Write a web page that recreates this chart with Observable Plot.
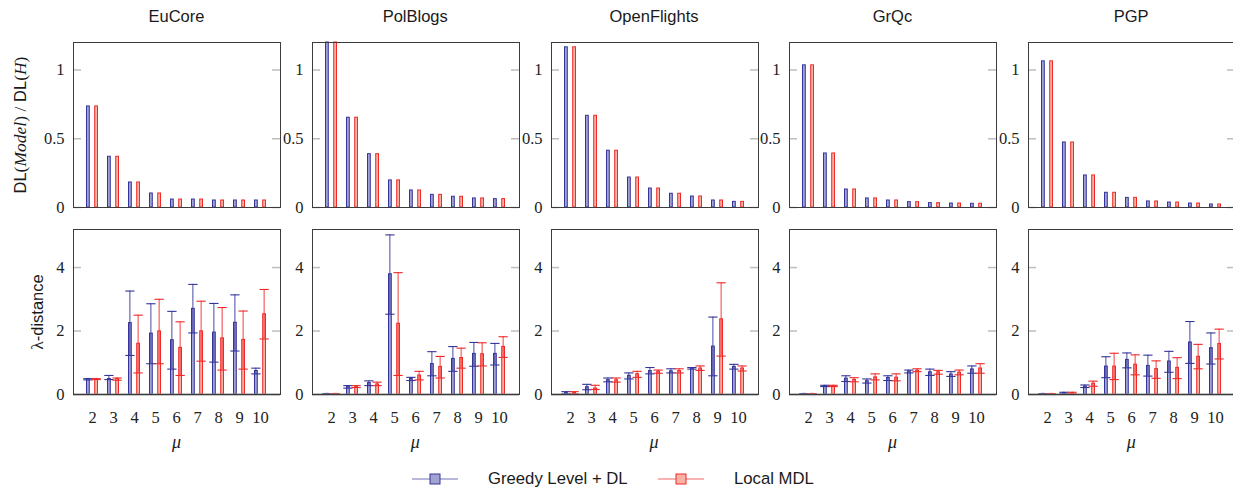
<!DOCTYPE html>
<html>
<head>
<meta charset="utf-8">
<script src="https://cdn.jsdelivr.net/npm/d3@7"></script>
<script src="https://cdn.jsdelivr.net/npm/@observablehq/plot@0.6"></script>
<style>
  html, body { margin: 0; padding: 0; background: #fff; }
  #root { position: relative; width: 1233px; height: 490px; overflow: hidden; background: #fff; }
  .abs { position: absolute; }
  .title { font-family: "Liberation Sans", Arial, sans-serif; font-size: 16.5px; color: #1a1a1a; text-align: center; line-height: 20px; white-space: nowrap; }
  .ylab { font-family: "Liberation Sans", Arial, sans-serif; font-size: 16.5px; color: #1a1a1a; white-space: nowrap; line-height: 20px; text-align: center; }
  .serif { font-family: "Liberation Serif", "Times New Roman", serif; font-size: 17.5px; }
  .it { font-style: italic; }
  .mu { font-family: "Liberation Serif", serif; font-style: italic; font-size: 18px; color: #222; text-align: center; line-height: 20px; }
  .leg { font-family: "Liberation Sans", Arial, sans-serif; font-size: 16.7px; color: #1a1a1a; line-height: 20px; white-space: nowrap; }
</style>
</head>
<body>
<div id="root"></div>
<script>
// ---------------- data ----------------
const datasets = ["EuCore", "PolBlogs", "OpenFlights", "GrQc", "PGP"];
const mus = [2, 3, 4, 5, 6, 7, 8, 9, 10];
const seriesNames = ["Greedy Level + DL", "Local MDL"];
const yTicksTop = [0, 0.5, 1];
const yTicksBottom = [0, 2, 4];

// DL(Model)/DL(H), one row per dataset
const dlGreedy = [
  [0.735, 0.369, 0.182, 0.102, 0.058, 0.058, 0.051, 0.051, 0.051],
  [1.2, 0.653, 0.388, 0.197, 0.124, 0.092, 0.078, 0.066, 0.061],
  [1.165, 0.667, 0.413, 0.218, 0.138, 0.100, 0.080, 0.051, 0.041],
  [1.034, 0.393, 0.131, 0.066, 0.051, 0.039, 0.032, 0.029, 0.027],
  [1.063, 0.473, 0.233, 0.107, 0.070, 0.044, 0.036, 0.029, 0.022]
];
const dlLocal = [
  [0.735, 0.369, 0.182, 0.102, 0.058, 0.058, 0.051, 0.051, 0.051],
  [1.2, 0.653, 0.388, 0.197, 0.124, 0.092, 0.078, 0.066, 0.061],
  [1.165, 0.667, 0.413, 0.218, 0.138, 0.100, 0.080, 0.051, 0.041],
  [1.034, 0.393, 0.131, 0.066, 0.051, 0.039, 0.032, 0.029, 0.027],
  [1.063, 0.473, 0.233, 0.107, 0.070, 0.044, 0.036, 0.029, 0.022]
];

// lambda-distance mean, low and high error values
const lamGreedy = [
  [0.49, 0.49, 2.25, 1.92, 1.71, 2.70, 1.95, 2.26, 0.74],
  [0.02, 0.25, 0.36, 3.79, 0.49, 0.96, 1.12, 1.28, 1.28],
  [0.05, 0.23, 0.45, 0.59, 0.74, 0.73, 0.82, 1.51, 0.87],
  [0.02, 0.27, 0.50, 0.42, 0.52, 0.73, 0.70, 0.63, 0.79],
  [0.02, 0.05, 0.25, 0.88, 1.09, 0.90, 1.04, 1.64, 1.46]
];
const lamGreedyLo = [
  [0.46, 0.47, 1.23, 0.97, 0.80, 1.94, 1.02, 1.37, 0.65],
  [0.01, 0.20, 0.28, 2.53, 0.44, 0.59, 0.73, 0.89, 0.93],
  [0.02, 0.15, 0.40, 0.49, 0.65, 0.68, 0.80, 0.59, 0.80],
  [0.01, 0.25, 0.41, 0.36, 0.44, 0.68, 0.60, 0.57, 0.67],
  [0.01, 0.02, 0.22, 0.53, 0.84, 0.58, 0.70, 0.98, 0.96]
];
const lamGreedyHi = [
  [0.50, 0.60, 3.26, 2.86, 2.62, 3.47, 2.87, 3.14, 0.83],
  [0.03, 0.28, 0.43, 5.03, 0.54, 1.35, 1.51, 1.64, 1.61],
  [0.09, 0.32, 0.52, 0.68, 0.85, 0.81, 0.85, 2.44, 0.95],
  [0.03, 0.29, 0.59, 0.49, 0.59, 0.77, 0.80, 0.72, 0.90],
  [0.03, 0.07, 0.30, 1.19, 1.31, 1.24, 1.36, 2.30, 1.94]
];
const lamLocal = [
  [0.49, 0.49, 1.60, 1.99, 1.47, 1.99, 1.77, 1.72, 2.53],
  [0.02, 0.25, 0.32, 2.23, 0.60, 0.87, 1.15, 1.27, 1.50],
  [0.05, 0.19, 0.45, 0.64, 0.72, 0.74, 0.82, 2.37, 0.82],
  [0.02, 0.27, 0.46, 0.54, 0.53, 0.75, 0.70, 0.69, 0.82],
  [0.02, 0.05, 0.34, 0.88, 0.94, 0.80, 0.84, 1.19, 1.59]
];
const lamLocalLo = [
  [0.47, 0.45, 0.68, 0.97, 0.60, 1.05, 0.77, 0.80, 1.75],
  [0.01, 0.22, 0.28, 0.60, 0.46, 0.52, 0.83, 0.90, 1.17],
  [0.02, 0.16, 0.39, 0.54, 0.67, 0.68, 0.76, 1.21, 0.74],
  [0.01, 0.25, 0.40, 0.46, 0.43, 0.72, 0.64, 0.62, 0.67],
  [0.01, 0.02, 0.26, 0.47, 0.62, 0.51, 0.50, 0.81, 1.12]
];
const lamLocalHi = [
  [0.50, 0.52, 2.50, 3.00, 2.29, 2.94, 2.74, 2.63, 3.31],
  [0.03, 0.28, 0.39, 3.84, 0.73, 1.20, 1.46, 1.63, 1.82],
  [0.09, 0.29, 0.52, 0.73, 0.77, 0.81, 0.90, 3.52, 0.90],
  [0.03, 0.29, 0.53, 0.65, 0.65, 0.81, 0.76, 0.77, 0.97],
  [0.03, 0.07, 0.42, 1.30, 1.25, 1.06, 1.16, 1.58, 2.06]
];

// ---------------- style / layout ----------------
const blueStroke = "#34349a", blueFill = "#a3a3d3";
const redStroke = "#f02828", redFill = "#f8b3a4";
const frameLeft = [73, 311.7, 550.5, 789, 1027.7];
const frameTop = [42, 229];
const FW = 207, FH = 165;
const padInner = 0.41, padOuter = 0.51;
const step = FW / (mus.length - padInner + 2 * padOuter);
const bw = step * (1 - padInner);
const barW = 4.5;
const cBlue = barW / 2, cRed = bw - barW / 2;
const span = (c, w) => ({insetLeft: c - w / 2, insetRight: bw - c - w / 2});

const root = document.getElementById("root");

function panel(row, k) {
  const isTop = row === 0;
  const ML = 50, MR = 8, MT = 6, MB = isTop ? 6 : 40;
  const yt = isTop ? yTicksTop : yTicksBottom;
  const data = mus.map((m, i) => isTop
    ? {mu: m, g: dlGreedy[k][i], l: dlLocal[k][i]}
    : {mu: m, g: lamGreedy[k][i], gl: lamGreedyLo[k][i], gh: lamGreedyHi[k][i],
       l: lamLocal[k][i], ll: lamLocalLo[k][i], lh: lamLocalHi[k][i]});
  const marks = [
    Plot.barY(data, {x: "mu", y: "g", fill: blueFill, stroke: blueStroke, strokeWidth: 1, ...span(cBlue, barW - 1)}),
    Plot.barY(data, {x: "mu", y: "l", fill: redFill, stroke: redStroke, strokeWidth: 1, ...span(cRed, barW - 1)})
  ];
  if (!isTop) {
    marks.push(
      Plot.barY(data, {x: "mu", y1: "gl", y2: "gh", fill: blueStroke, ...span(cBlue, 1.6)}),
      Plot.tickY(data, {x: "mu", y: "gh", stroke: blueStroke, strokeWidth: 1.1, ...span(cBlue, 10)}),
      Plot.tickY(data, {x: "mu", y: "gl", stroke: blueStroke, strokeWidth: 1.1, ...span(cBlue, 10)}),
      Plot.barY(data, {x: "mu", y1: "ll", y2: "lh", fill: redStroke, ...span(cRed, 1.6)}),
      Plot.tickY(data, {x: "mu", y: "lh", stroke: redStroke, strokeWidth: 1.1, ...span(cRed, 10)}),
      Plot.tickY(data, {x: "mu", y: "ll", stroke: redStroke, strokeWidth: 1.1, ...span(cRed, 10)}),
      Plot.ruleY([0], {stroke: "#8a8a8a", strokeWidth: 2}),
      Plot.axisX({tickSize: 0, tickPadding: 17, label: null, color: "#222"})
    );
  }
  marks.push(
    Plot.tickY(yt, {y: d => d, stroke: "#bdbdbd", strokeWidth: 1.5, insetRight: FW - 8}),
    Plot.tickY(yt, {y: d => d, stroke: "#bdbdbd", strokeWidth: 1.5, insetLeft: FW - 8}),
    Plot.axisY({ticks: yt, tickSize: 0, tickPadding: 9, label: null, tickFormat: d => String(d), color: "#222"}),
    Plot.frame({stroke: "#3c3c3c", strokeWidth: 1})
  );
  const svg = Plot.plot({
    width: FW + ML + MR,
    height: FH + MT + MB,
    marginLeft: ML, marginRight: MR, marginTop: MT, marginBottom: MB,
    style: {fontFamily: "'Liberation Serif', 'Times New Roman', serif", fontSize: "16.5px", background: "transparent", overflow: "visible", color: "#222"},
    x: {type: "band", domain: mus, paddingInner: padInner, paddingOuter: padOuter, axis: isTop ? null : undefined},
    y: {domain: isTop ? [0, 1.2] : [0, 5.2], clamp: true},
    marks
  });
  svg.style.position = "absolute";
  svg.style.left = (frameLeft[k] - ML) + "px";
  svg.style.top = (frameTop[row] - MT) + "px";
  root.appendChild(svg);
}

for (let r = 0; r < 2; r++) for (let k = 0; k < datasets.length; k++) panel(r, k);

// titles and mu labels
datasets.forEach((name, k) => {
  const t = document.createElement("div");
  t.className = "abs title";
  t.textContent = name;
  t.style.left = (frameLeft[k] + FW / 2 - 100) + "px";
  t.style.width = "200px";
  t.style.top = "6px";
  root.appendChild(t);
  const m = document.createElement("div");
  m.className = "abs mu";
  m.textContent = "μ";
  m.style.left = (frameLeft[k] + FW / 2 - 20) + "px";
  m.style.width = "40px";
  m.style.top = "432px";
  root.appendChild(m);
});

// y axis labels
function ylabel(html, cx, cy) {
  const d = document.createElement("div");
  d.className = "abs ylab";
  d.innerHTML = html;
  d.style.left = (cx - 110) + "px";
  d.style.top = (cy - 10) + "px";
  d.style.width = "220px";
  d.style.transform = "rotate(-90deg)";
  root.appendChild(d);
}
ylabel('DL<span class="serif">(</span><span class="serif it">Model</span><span class="serif">)</span> <span class="serif">/</span> DL<span class="serif">(</span><span class="serif it">H</span><span class="serif">)</span>', 20, 124.5);
ylabel('<span class="serif">λ</span>-distance', 37, 311.5);

// legend
function legendItem(x0, stroke, fill, label, tx) {
  const ns = "http://www.w3.org/2000/svg";
  const s = document.createElementNS(ns, "svg");
  s.setAttribute("width", 46); s.setAttribute("height", 14);
  s.style.position = "absolute"; s.style.left = x0 + "px"; s.style.top = "472px";
  const l = document.createElementNS(ns, "line");
  l.setAttribute("x1", 0); l.setAttribute("x2", 46); l.setAttribute("y1", 7); l.setAttribute("y2", 7);
  l.setAttribute("stroke", stroke); l.setAttribute("stroke-opacity", 0.7); l.setAttribute("stroke-width", 1.2);
  const r = document.createElementNS(ns, "rect");
  r.setAttribute("x", 18); r.setAttribute("y", 2); r.setAttribute("width", 10); r.setAttribute("height", 10);
  r.setAttribute("fill", fill); r.setAttribute("stroke", stroke); r.setAttribute("stroke-width", 1);
  s.appendChild(l); s.appendChild(r);
  root.appendChild(s);
  const t = document.createElement("div");
  t.className = "abs leg";
  t.textContent = label;
  t.style.left = tx + "px";
  t.style.top = "469px";
  root.appendChild(t);
}
legendItem(412, blueStroke, blueFill, seriesNames[0], 488);
legendItem(658, redStroke, redFill, seriesNames[1], 734);
</script>
</body>
</html>
